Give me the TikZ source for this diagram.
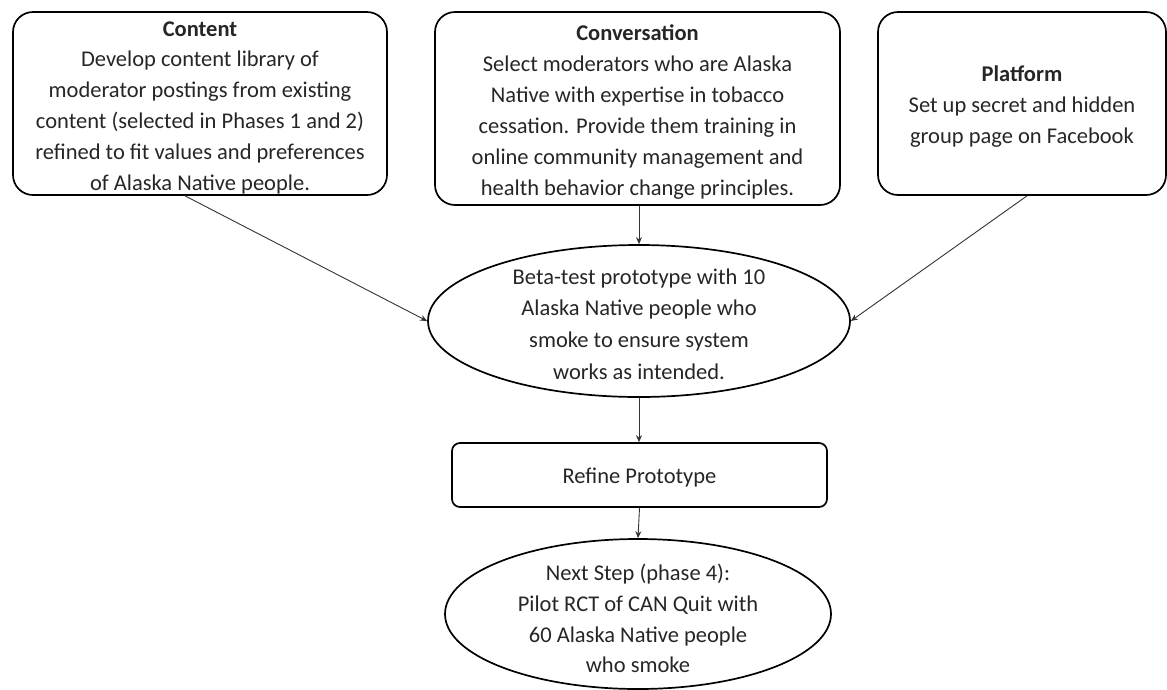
\documentclass[tikz,border=0pt]{standalone}
\usepackage{fontspec}
\setmainfont{Carlito}
\usetikzlibrary{shapes.geometric,arrows.meta,calc}
\begin{document}
\begin{tikzpicture}[x=1pt,y=-1pt,
  box/.style={draw=black,line width=1.7pt,rounded corners=20pt,inner sep=0pt},
  oval/.style={draw=black,line width=1.7pt,ellipse,inner sep=0pt},
  txt/.style={align=center,inner sep=0pt,text=black!85,font=\fontsize{22.5}{30.8}\selectfont},
  arr/.style={draw=black!80,line width=0.9pt,-{Stealth[length=7pt,width=6pt]}}
]
\useasboundingbox (0,0) rectangle (1167,689);
% top boxes
\node[box,minimum width=374pt,minimum height=183pt] (content) at (200,103.5) {};
\node[txt] (contentt) at (200,107.5) {\textbf{Content}\\Develop content library of\\moderator postings from existing\\content (selected in Phases 1 and 2)\\refined to fit values and preferences\\of Alaska Native people.};
\node[box,minimum width=405pt,minimum height=193pt] (conv) at (637.5,108.5) {};
\node[txt,font=\fontsize{22.5}{31}\selectfont] (convt) at (637.5,112) {\textbf{Conversation}\\Select moderators who are Alaska\\Native with expertise in tobacco\\cessation. Provide them training in\\online community management and\\health behavior change principles.};
\node[box,minimum width=288pt,minimum height=183pt] (plat) at (1022,103.5) {};
\node[txt,font=\fontsize{22.5}{31}\selectfont] (platt) at (1022,107) {\textbf{Platform}\\Set up secret and hidden\\group page on Facebook};
% beta test
\node[oval,minimum width=422pt,minimum height=152pt] (beta) at (639,321) {};
\node[txt,font=\fontsize{22.5}{31.7}\selectfont] (betat) at (639,324) {Beta-test prototype with 10\\Alaska Native people who\\smoke to ensure system\\works as intended.};
% refine
\node[box,rounded corners=8pt,minimum width=375pt,minimum height=64pt] (refine) at (639.5,475) {};
\node[txt] (refinet) at (639.5,478) {Refine Prototype};
% next
\node[oval,minimum width=386pt,minimum height=150pt] (next) at (638,614) {};
\node[txt,font=\fontsize{22.5}{30.7}\selectfont] (nextt) at (638,618.5) {Next Step (phase 4):\\Pilot RCT of CAN Quit with\\60 Alaska Native people\\who smoke};
% connectors
\draw[arr] ([xshift=-15pt]content.south) -- (beta.west);
\draw[arr] (beta.north |- conv.south) -- (beta.north);
\draw[arr] ([xshift=5pt]plat.south) -- (beta.east);
\draw[arr] (beta.south) -- (beta.south |- refine.north);
\draw[arr] (refine.south) -- (next.north);
\end{tikzpicture}
\end{document}
